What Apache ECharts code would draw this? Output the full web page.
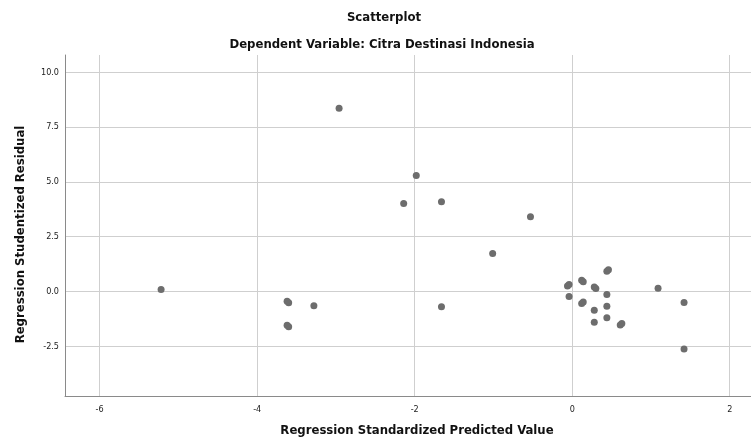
<!DOCTYPE html>
<html>
<head>
<meta charset="utf-8">
<script src="https://cdn.jsdelivr.net/npm/echarts@6/dist/echarts.min.js"></script>
<style>
html,body{margin:0;padding:0;background:#fff;}
#chart{width:751px;height:442px;}
</style>
</head>
<body>
<div id="chart"></div>
<script>
// Data (x = standardized predicted, y = studentized residual)
const predicted = [-2.96, -1.98, -2.14, -1.66, -0.53, -1.01, -5.22,
  -3.60, -3.62, -3.28, -3.60, -3.62, -1.66,
  0.44, 0.46, -0.04, -0.06, 0.12, 0.14, 0.28, 0.30, 1.09, -0.04, 0.44,
  0.12, 0.14, 1.42, 0.28, 0.44, 0.28, 0.44, 0.61, 0.63, 1.42];
const residual = [8.36, 5.29, 4.01, 4.09, 3.41, 1.73, 0.09,
  -0.52, -0.45, -0.65, -1.61, -1.54, -0.70,
  0.92, 0.99, 0.32, 0.25, 0.51, 0.44, 0.20, 0.13, 0.15, -0.23, -0.14,
  -0.55, -0.48, -0.50, -0.86, -0.67, -1.40, -1.20, -1.53, -1.46, -2.62];
const xTicks = [-6, -4, -2, 0, 2];
const yTicks = [-2.5, 0, 2.5, 5, 7.5, 10];
const titleText = 'Scatterplot';
const subtitleText = 'Dependent Variable: Citra Destinasi Indonesia';
const xName = 'Regression Standardized Predicted Value';
const yName = 'Regression Studentized Residual';

const points = predicted.map((x, i) => [x, residual[i]]);
const FONT = '"DejaVu Sans Condensed", "Liberation Sans Narrow", "Open Sans", sans-serif';

const chart = echarts.init(document.getElementById('chart'), null, {renderer: 'canvas'});
chart.setOption({
  animation: false,
  backgroundColor: '#ffffff',
  title: [
    {text: titleText, left: 384, top: 11, textAlign: 'center', padding: 0,
     textStyle: {fontFamily: FONT, fontSize: 13, fontWeight: 'bold', color: '#111'}},
    {text: subtitleText, left: 382, top: 38, textAlign: 'center', padding: 0,
     textStyle: {fontFamily: FONT, fontSize: 13, fontWeight: 'bold', color: '#111'}}
  ],
  grid: {left: 65, right: 0, top: 55, bottom: 44, containLabel: false},
  xAxis: {
    type: 'value', min: -6.44, max: 2.27,
    name: xName, nameLocation: 'middle', nameGap: 28,
    nameTextStyle: {fontFamily: FONT, fontSize: 13, fontWeight: 'bold', color: '#111', padding: [0, 0, 0, 18]},
    axisLine: {show: true, onZero: false, lineStyle: {color: '#8a8a8a', width: 1}},
    axisTick: {show: false, customValues: xTicks},
    axisLabel: {customValues: xTicks, margin: 9, fontFamily: FONT, fontSize: 9, color: '#222',
      formatter: v => String(Math.round(v))},
    splitLine: {show: true, lineStyle: {color: '#cfcfcf', width: 1}}
  },
  yAxis: {
    type: 'value', min: -4.77, max: 10.79,
    name: yName, nameLocation: 'middle', nameGap: 38,
    nameTextStyle: {fontFamily: FONT, fontSize: 13, fontWeight: 'bold', color: '#111', padding: [0, 18, 0, 0]},
    axisLine: {show: true, onZero: false, lineStyle: {color: '#8a8a8a', width: 1}},
    axisTick: {show: false, customValues: yTicks},
    axisLabel: {customValues: yTicks, margin: 6, fontFamily: FONT, fontSize: 9, color: '#222',
      formatter: v => v.toFixed(1)},
    splitLine: {show: true, lineStyle: {color: '#cfcfcf', width: 1}}
  },
  series: [{
    type: 'scatter',
    data: points,
    symbol: 'circle',
    symbolSize: 7,
    itemStyle: {color: '#6d6d6d', opacity: 1},
    emphasis: {disabled: true}
  }]
});
</script>
</body>
</html>
